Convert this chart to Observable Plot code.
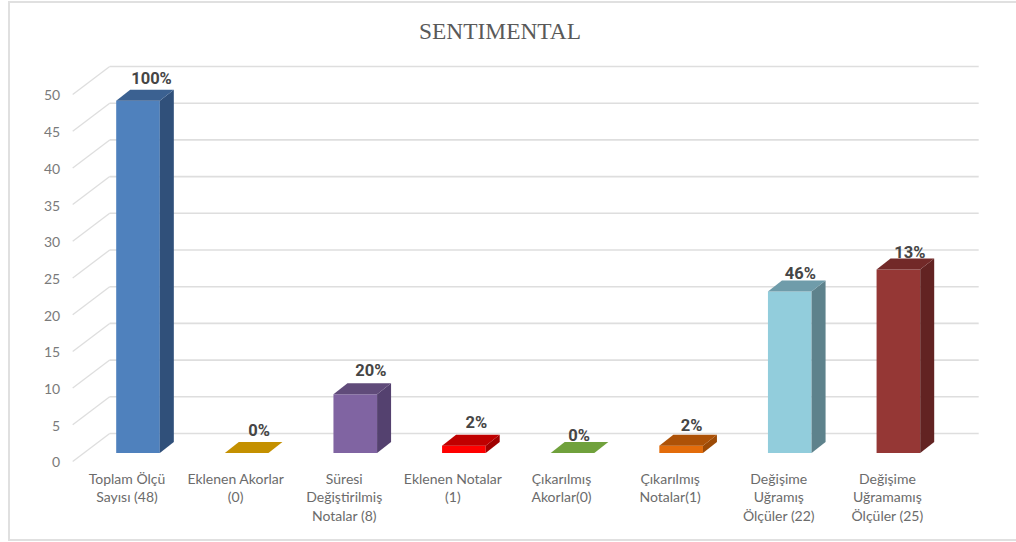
<!DOCTYPE html>
<html lang="tr">
<head>
<meta charset="utf-8">
<script src="https://cdn.jsdelivr.net/npm/d3@7"></script>
<script src="https://cdn.jsdelivr.net/npm/@observablehq/plot@0.6"></script>
<style>
  html, body { margin: 0; padding: 0; background: #fff; overflow: hidden; }
  #frame { position: absolute; left: 8px; top: 1px; width: 1020px; height: 540px; border: 2px solid #e0e0e0; box-sizing: border-box; }
  #chart { position: absolute; left: 0; top: 0; width: 1016px; }
  #title { height: 60px; box-sizing: border-box; padding-top: 17px; text-align: center; padding-right: 16px;
           font: 23.4px/28px "Liberation Serif", serif; color: #595959; }
  svg { display: block; font-family: Lato, sans-serif; }
</style>
</head>
<body>
<div id="frame"></div>
<div id="chart"><div id="title">SENTIMENTAL</div></div>
<script>
const categories = [
  "Toplam Ölçü\nSayısı (48)",
  "Eklenen Akorlar\n(0)",
  "Süresi\nDeğiştirilmiş\nNotalar (8)",
  "Eklenen Notalar\n(1)",
  "Çıkarılmış\nAkorlar(0)",
  "Çıkarılmış\nNotalar(1)",
  "Değişime\nUğramış\nÖlçüler (22)",
  "Değişime\nUğramamış\nÖlçüler (25)"
];
const values = [48, 0, 8, 1, 0, 1, 22, 25];
const percentLabels = ["100%", "0%", "20%", "2%", "0%", "2%", "46%", "13%"];
const yTicks = [0, 5, 10, 15, 20, 25, 30, 35, 40, 45, 50];

const frontColors = ["#4f81bd", "#c49000", "#8064a2", "#ff0000", "#70a13c", "#e36c0a", "#92cddc", "#953735"];
const topColors   = ["#3b6191", "#c49000", "#604b7a", "#c00000", "#70a13c", "#ad5207", "#6f9caa", "#722928"];
const sideColors  = ["#30507a", "#a37800", "#54416f", "#a00000", "#5d8632", "#9c4a06", "#5e828c", "#622322"];
const labelNudges = [[24,-30],[23,-31],[26,-32],[23,-31],[17,-26],[21,-28],[21,-26],[22,-25]];

const rows = categories.map((c, i) => ({c, v: values[i], label: percentLabels[i], i}));

// 3-D projection of the chart: wall depth and bar depth, in pixels
const wall = {dx: 37, dy: -28};
const bar = {dx: 11, dy: -8, depthX: 14, depthY: -11, inset: 32.5};

const SVGNS = "http://www.w3.org/2000/svg";
const poly = (pts, fill) => {
  const p = document.createElementNS(SVGNS, "polygon");
  p.setAttribute("points", pts.map(d => d.join(",")).join(" "));
  p.setAttribute("fill", fill);
  return p;
};
const seg = (x1, y1, x2, y2) => {
  const l = document.createElementNS(SVGNS, "line");
  for (const [k, v] of Object.entries({x1, y1, x2, y2})) l.setAttribute(k, v);
  return l;
};

const chart = Plot.plot({
  width: 1016,
  height: 482,
  marginTop: 34,
  marginBottom: 81,
  marginLeft: 72.7,
  marginRight: 74.3,
  x: {type: "band", domain: categories, padding: 0, round: false, label: null},
  y: {domain: [0, 50], label: null},
  marks: [
    Plot.ruleY(yTicks, {stroke: "#dedede", strokeWidth: 1.6, dx: wall.dx, dy: wall.dy}),
    Plot.ruleY(yTicks, {
      stroke: "#dedede", strokeWidth: 1.3,
      render(index, scales, vals, dims, ctx, next) {
        const g = next(index, scales, vals, dims, ctx);
        g.replaceChildren(...yTicks.map(t => {
          const y = scales.y(t);
          return seg(dims.marginLeft, y, dims.marginLeft + wall.dx, y + wall.dy);
        }));
        return g;
      }
    }),
    Plot.axisY(yTicks, {tickSize: 0, tickPadding: 13, fontSize: 14, fill: "#7a7a7a", label: null, dy: 1.5}),
    Plot.axisX(categories, {
      tickSize: 0, tickPadding: 9, fontSize: 14, fill: "#6b6b6b", lineHeight: 1.32, label: null,
      anchor: "bottom", dx: -0.5
    }),
    Plot.barY(rows, {
      x: "c", y: "v", fill: (d) => frontColors[d.i],
      insetLeft: bar.inset, insetRight: bar.inset, dx: bar.dx, dy: bar.dy,
      render(index, scales, vals, dims, ctx, next) {
        const g = next(index, scales, vals, dims, ctx);
        const band = (dims.width - dims.marginLeft - dims.marginRight) / categories.length;
        for (const i of index) {
          const d = rows[i];
          const x0 = scales.x(d.c) + bar.inset;
          const x1 = scales.x(d.c) + band - bar.inset;
          const yT = scales.y(d.v);
          const yB = scales.y(0);
          g.appendChild(poly([[x1, yT], [x1 + bar.depthX, yT + bar.depthY], [x1 + bar.depthX, yB + bar.depthY], [x1, yB]], sideColors[i]));
          g.appendChild(poly([[x0, yT], [x0 + bar.depthX, yT + bar.depthY], [x1 + bar.depthX, yT + bar.depthY], [x1, yT]], topColors[i]));
        }
        return g;
      }
    }),
    ...rows.map((d, i) => Plot.text([d], {
      x: "c", y: "v", text: "label",
      dx: labelNudges[i][0], dy: labelNudges[i][1],
      fontFamily: "Roboto", fontSize: 16.5, fontWeight: 700, fill: "#454545"
    }))
  ]
});
document.getElementById("chart").appendChild(chart);
</script>
</body>
</html>
